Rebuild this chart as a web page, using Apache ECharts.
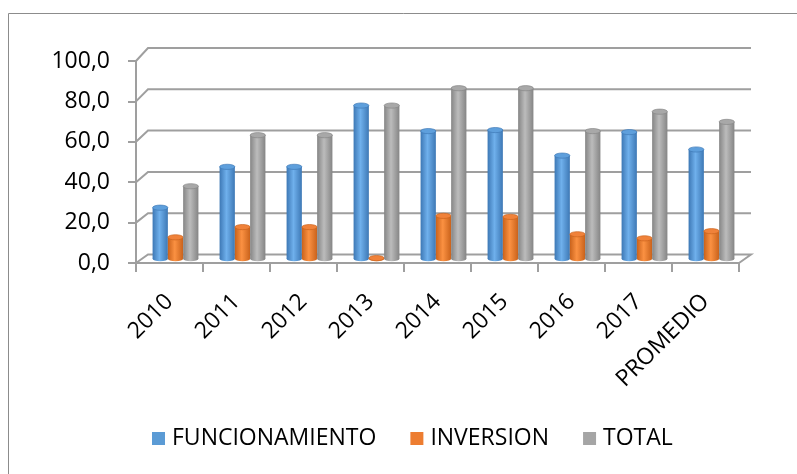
<!DOCTYPE html>
<html>
<head>
<meta charset="utf-8">
<script src="https://cdn.jsdelivr.net/npm/echarts@6/dist/echarts.min.js"></script>
<style>
  html, body { margin: 0; padding: 0; background: #fff; }
  #chart { width: 797px; height: 474px; }
</style>
</head>
<body>
<div id="chart"></div>
<script>
const categories = ["2010", "2011", "2012", "2013", "2014", "2015", "2016", "2017", "PROMEDIO"];
const funcionamiento = [25, 45, 45, 75, 62.5, 63, 50.5, 62, 53.5];
const inversion = [10.5, 15.5, 15.5, 0.3, 21, 20.5, 12, 10, 13.5];
const total = [35.5, 60.5, 60.5, 75, 83.5, 83.5, 62.5, 72, 67];
const yTicks = [0, 20, 40, 60, 80, 100];

const FONT = "'Open Sans', sans-serif";
const FONT_SIZE = 23;
const GRID_COLOR = "#9f9f9f";
// desplazamiento de la pared del fondo (efecto 3D, con algo de perspectiva)
const depthX = 12;
function depthY(v) {
  return 8.5 + (v / 100) * 4.5;
}

function shade(dark, light) {
  return new echarts.graphic.LinearGradient(0, 0, 1, 0, [
    { offset: 0, color: dark },
    { offset: 0.45, color: light },
    { offset: 1, color: dark },
  ]);
}

// cilindro por cada valor, slot = posicion dentro del grupo
function cylinderSeries(name, values, colors, slot) {
  return {
    name: name,
    type: "custom",
    z: 3,
    itemStyle: { color: colors.base },
    data: values.map((v, i) => [i, v]),
    encode: { x: 0, y: 1 },
    renderItem: (params, api) => {
      const v = api.value(1);
      const top = api.coord([api.value(0), v]);
      const base = api.coord([api.value(0), 0]);
      const band = api.size([1, 0])[0];
      const w = band * 0.228;
      const cx = top[0] + (slot - 1) * w + depthX / 2;
      const yTop = top[1] - depthY(v) / 2;
      const yBase = base[1] - depthY(0) / 2;
      const r = w / 2;
      const k = 2.6 / r;
      return {
        type: "group",
        children: [
          {
            type: "circle",
            shape: { cx: 0, cy: 0, r: r },
            x: cx, y: yBase, scaleY: k,
            style: { fill: shade(colors.dark, colors.light) },
          },
          {
            type: "rect",
            shape: { x: cx - r, y: yTop, width: w, height: Math.max(0, yBase - yTop) },
            style: { fill: shade(colors.dark, colors.light) },
          },
          {
            type: "circle",
            shape: { cx: 0, cy: 0, r: r },
            x: cx, y: yTop, scaleY: k,
            style: { fill: colors.cap, stroke: colors.dark, lineWidth: 1 },
          },
        ],
      };
    },
  };
}

// lineas de la pared lateral, del fondo y del piso
const frameSeries = {
  type: "custom",
  silent: true,
  z: 1,
  data: yTicks.map((v) => [0, v]),
  encode: { x: 0, y: 1 },
  renderItem: (params, api) => {
    const v = api.value(1);
    const band = api.size([1, 0])[0];
    const left = api.coord([0, v]);
    const right = api.coord([categories.length - 1, v]);
    const x0 = left[0] - band / 2;
    const x1 = right[0] + band / 2;
    const y = left[1];
    const dy = depthY(v);
    const pts = [[x0, y], [x0 + depthX, y - dy], [x1 + depthX, y - dy]];
    if (v === 0) pts.push([x1, y]);
    return {
      type: "polyline",
      shape: { points: pts },
      style: { stroke: GRID_COLOR, lineWidth: 2, fill: null },
    };
  },
};

const chart = echarts.init(document.getElementById("chart"));

const option = {
  animation: false,
  textStyle: { fontFamily: FONT },
  graphic: [
    {
      type: "rect",
      silent: true,
      shape: { x: 8.5, y: 13.5, width: 800, height: 470 },
      style: { fill: null, stroke: "#8c8c8c", lineWidth: 1 },
    },
  ],
  legend: {
    data: ["FUNCIONAMIENTO", "INVERSION", "TOTAL"],
    left: 152,
    top: 427,
    padding: 0,
    icon: "rect",
    itemWidth: 13,
    itemHeight: 13,
    itemGap: 34,
    textStyle: { fontFamily: FONT, fontSize: FONT_SIZE, color: "#000", padding: [0, 0, 0, 2] },
  },
  grid: { left: 136, right: 58, top: 61, bottom: 211 },
  xAxis: {
    type: "category",
    data: categories,
    axisLine: { lineStyle: { color: GRID_COLOR, width: 2 } },
    axisTick: { show: true, length: 9, lineStyle: { color: GRID_COLOR, width: 2 } },
    axisLabel: { rotate: 45, margin: 35, fontFamily: FONT, fontSize: FONT_SIZE, color: "#000", interval: 0 },
  },
  yAxis: {
    type: "value",
    min: 0,
    max: 100,
    interval: 20,
    axisLine: { show: true, lineStyle: { color: GRID_COLOR, width: 2 } },
    axisTick: { show: true, length: 8, lineStyle: { color: GRID_COLOR, width: 2 } },
    splitLine: { show: false },
    axisLabel: {
      margin: 26,
      fontFamily: FONT,
      fontSize: FONT_SIZE,
      color: "#000",
      formatter: (v) => v.toFixed(1).replace(".", ","),
    },
  },
  series: [
    frameSeries,
    cylinderSeries("FUNCIONAMIENTO", funcionamiento,
      { base: "#5B9BD5", dark: "#3d78b5", light: "#6fb0ec", cap: "#5e9fdc" }, 0),
    cylinderSeries("INVERSION", inversion,
      { base: "#ED7D31", dark: "#c9621b", light: "#fb9142", cap: "#f0823a" }, 1),
    cylinderSeries("TOTAL", total,
      { base: "#A5A5A5", dark: "#858585", light: "#bcbcbc", cap: "#a8a8a8" }, 2),
  ],
};

chart.setOption(option);
</script>
</body>
</html>
